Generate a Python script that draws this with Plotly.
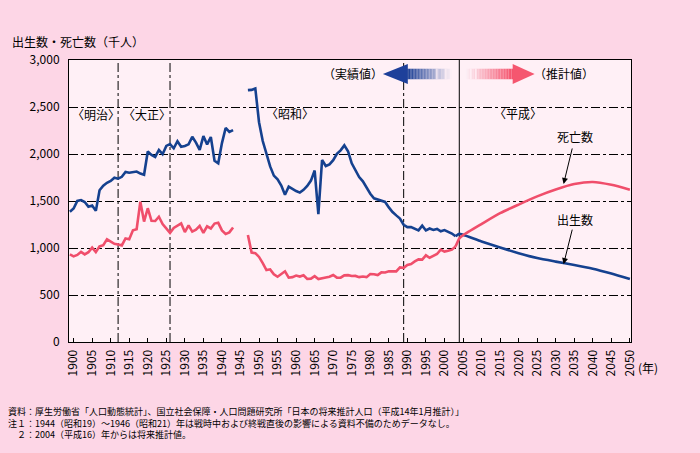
import plotly.graph_objects as go

# ---------------- data (thousands) ----------------
years_actual = list(range(1899, 2004))
births_actual = [
    1386, 1420, 1501, 1510, 1489, 1440, 1452, 1395, 1615, 1663, 1694,   # 1899-1909
    1713, 1748, 1737, 1757, 1808, 1800, 1804, 1813, 1792, 1779,         # 1910-1919
    2026, 1991, 1969, 2043, 1998, 2086, 2105, 2061, 2136, 2077,         # 1920-1929
    2085, 2103, 2183, 2121, 2044, 2191, 2102, 2181, 1928, 1902,         # 1930-1939
    2116, 2277, 2234, 2254, None, None, None, 2679, 2682, 2697,         # 1940-1949
    2338, 2138, 2005, 1868, 1770, 1731, 1665, 1567, 1653, 1626,         # 1950-1959
    1606, 1589, 1619, 1660, 1717, 1824, 1361, 1936, 1872, 1890,         # 1960-1969
    1934, 2001, 2039, 2092, 2030, 1901, 1833, 1755, 1709, 1643,         # 1970-1979
    1577, 1529, 1515, 1509, 1490, 1432, 1383, 1347, 1314, 1247,         # 1980-1989
    1222, 1223, 1209, 1188, 1238, 1187, 1207, 1192, 1203, 1178,         # 1990-1999
    1191, 1171, 1154, 1124,                                             # 2000-2003
]
deaths_actual = [
    932, 911, 926, 959, 932, 955, 1004, 956, 1017, 1030, 1092,          # 1899-1909
    1065, 1044, 1038, 1028, 1102, 1094, 1188, 1200, 1493, 1281,         # 1910-1919
    1423, 1289, 1287, 1333, 1255, 1211, 1161, 1214, 1237, 1262,         # 1920-1929
    1170, 1241, 1175, 1194, 1235, 1162, 1230, 1208, 1260, 1268,         # 1930-1939
    1187, 1150, 1166, 1219, None, None, None, 1138, 951, 945,           # 1940-1949
    905, 839, 765, 773, 721, 694, 725, 752, 684, 690,                   # 1950-1959
    707, 696, 710, 671, 674, 700, 670, 675, 687, 694,                   # 1960-1969
    713, 685, 684, 709, 711, 702, 703, 690, 696, 690,                   # 1970-1979
    723, 721, 712, 741, 740, 752, 751, 751, 793, 789,                   # 1980-1989
    820, 830, 857, 879, 876, 922, 896, 914, 936, 982,                   # 1990-1999
    962, 970, 982, 1015,                                                # 2000-2003
]

years_proj = [2003, 2004, 2005, 2010, 2015, 2020, 2025, 2030, 2035, 2040, 2045, 2050]
births_proj = [1124, 1150, 1140, 1070, 1005, 945, 893, 855, 820, 780, 728, 670]
deaths_proj = [1015, 1100, 1135, 1255, 1370, 1462, 1549, 1622, 1680, 1702, 1672, 1620]

era_years = [1912, 1926, 1989]
proj_start = 2004

footer_lines = [
    "資料：厚生労働省「人口動態統計」、国立社会保障・人口問題研究所「日本の将来推計人口（平成14年1月推計）」",
    "注１：1944（昭和19）～1946（昭和21）年は戦時中および終戦直後の影響による資料不備のためデータなし。",
    "　２：2004（平成16）年からは将来推計値。",
]

BLUE = "#15418F"
RED = "#F04E6B"
FONT = "Noto Sans CJK JP"

fig = go.Figure()
fig.add_trace(go.Scatter(x=years_actual, y=births_actual, mode="lines",
                         line=dict(color=BLUE, width=2.6), connectgaps=False,
                         hoverinfo="skip", showlegend=False))
fig.add_trace(go.Scatter(x=years_actual, y=deaths_actual, mode="lines",
                         line=dict(color=RED, width=2.6), connectgaps=False,
                         hoverinfo="skip", showlegend=False))
fig.add_trace(go.Scatter(x=years_proj, y=births_proj, mode="lines",
                         line=dict(color=BLUE, width=2.6, shape="spline", smoothing=0.6),
                         hoverinfo="skip", showlegend=False))
fig.add_trace(go.Scatter(x=years_proj, y=deaths_proj, mode="lines",
                         line=dict(color=RED, width=2.6, shape="spline", smoothing=0.6),
                         hoverinfo="skip", showlegend=False))

# plot area in pixels
L, R, T, B = 68.7, 631.5, 60.3, 341.7
W, H = R - L, B - T


def px(x):
    return (x - L) / W


def py(y):
    return (B - y) / H


shapes = []
for yr in era_years:
    shapes.append(dict(type="line", xref="x", yref="paper", x0=yr, x1=yr, y0=0, y1=1,
                       line=dict(color="black", width=1, dash="dashdot"), layer="below"))
shapes.append(dict(type="line", xref="x", yref="paper", x0=proj_start, x1=proj_start,
                   y0=0, y1=1, line=dict(color="black", width=1), layer="below"))


def lerp(c1, c2, t):
    return "rgb(%d,%d,%d)" % tuple(round(a + (b - a) * t) for a, b in zip(c1, c2))


# blue arrow (pointing left) with gradient
blue_dark = (26, 62, 148)
pale = (252, 238, 245)
x0b, x1b = 407.5, 452.0
n = 30
for i in range(n):
    xa = x0b + (x1b - x0b) * i / n
    xb = x0b + (x1b - x0b) * (i + 1) / n
    t = i / (n - 1)
    shapes.append(dict(type="rect", xref="paper", yref="paper", x0=px(xa), x1=px(xb),
                       y0=py(79.5), y1=py(69.0), fillcolor=lerp(blue_dark, pale, t),
                       line=dict(width=0), layer="above"))
for gx in (436.5, 445.5):
    shapes.append(dict(type="rect", xref="paper", yref="paper", x0=px(gx), x1=px(gx + 1.3),
                       y0=py(79.5), y1=py(69.0), fillcolor="#FFF0F6",
                       line=dict(width=0), layer="above"))
shapes.append(dict(type="path", xref="paper", yref="paper",
                   path="M %f %f L %f %f L %f %f Z" % (px(383), py(74.2), px(408), py(64.3),
                                                      px(408), py(84.3)),
                   fillcolor="#1E409A", line=dict(width=0), layer="above"))

# red arrow (pointing right) with gradient
red_c = (245, 82, 108)
x0r, x1r = 466.0, 513.5
for i in range(n):
    xa = x0r + (x1r - x0r) * i / n
    xb = x0r + (x1r - x0r) * (i + 1) / n
    t = i / (n - 1)
    shapes.append(dict(type="rect", xref="paper", yref="paper", x0=px(xa), x1=px(xb),
                       y0=py(79.5), y1=py(69.0), fillcolor=lerp(pale, red_c, t),
                       line=dict(width=0), layer="above"))
for gx in (470.5, 475.5):
    shapes.append(dict(type="rect", xref="paper", yref="paper", x0=px(gx), x1=px(gx + 1.3),
                       y0=py(79.5), y1=py(69.0), fillcolor="#FFF0F6",
                       line=dict(width=0), layer="above"))
shapes.append(dict(type="path", xref="paper", yref="paper",
                   path="M %f %f L %f %f L %f %f Z" % (px(535), py(74.2), px(513), py(64.3),
                                                      px(513), py(84.3)),
                   fillcolor="#F5566F", line=dict(width=0), layer="above"))

annotations = []


def txt(text, x, y, size=12, xanchor="center", yanchor="middle", align="left"):
    annotations.append(dict(text=text, x=px(x), y=py(y), xref="paper", yref="paper",
                            xanchor=xanchor, yanchor=yanchor, align=align,
                            showarrow=False, font=dict(family=FONT, size=size, color="black")))


txt("出生数・死亡数（千人）", 10, 42, size=12, xanchor="left")
txt("〈明治〉", 70, 115, xanchor="left")
txt("〈大正〉", 121, 115, xanchor="left")
txt("〈昭和〉", 264, 114, xanchor="left")
txt("〈平成〉", 492, 114, xanchor="left")
txt("（実績値）", 353, 74)
txt("（推計値）", 564, 74)
txt("死亡数", 575, 137)
txt("出生数", 575, 219)
txt("(年)", 637, 367, xanchor="left")

txt("<br>".join(footer_lines), 6, 403, size=9, xanchor="left", yanchor="top")

# pointer arrows (start -> end in pixels)
for (xs, ys, xe, ye) in [(573, 147, 564, 184), (573, 228, 564, 264)]:
    annotations.append(dict(x=px(xe), y=py(ye), xref="paper", yref="paper",
                            ax=xs - xe, ay=ys - ye, axref="pixel", ayref="pixel",
                            text="", showarrow=True,
                            arrowhead=2, arrowsize=1.2, arrowwidth=1, arrowcolor="black"))

fig.update_layout(
    width=700, height=453,
    margin=dict(l=L, r=700 - R, t=T, b=453 - B, pad=0),
    paper_bgcolor="#FDD6E6",
    plot_bgcolor="#FFF0F6",
    font=dict(family=FONT, size=12, color="black"),
    shapes=shapes,
    annotations=annotations,
    hovermode=False,
    xaxis=dict(range=[1898.76, 2050.3], tick0=1900, dtick=5, tickangle=-90,
               ticks="inside", ticklen=4, tickcolor="black", showgrid=False,
               showline=True, linecolor="black", linewidth=1, mirror=True,
               zeroline=False, tickfont=dict(family=FONT, size=12),
               ticklabelstandoff=2),
    yaxis=dict(range=[0, 3000], dtick=500, tickformat=",", showgrid=True,
               gridcolor="black", gridwidth=1, griddash="dashdot",
               showline=True, linecolor="black", linewidth=1, mirror=True,
               zeroline=False, ticks="", tickfont=dict(family=FONT, size=12),
               ticklabelstandoff=6),
)

fig.write_html("out.html", config={"displayModeBar": False, "staticPlot": True},
               post_script="document.body.style.margin='0';document.body.style.overflow='hidden';")
